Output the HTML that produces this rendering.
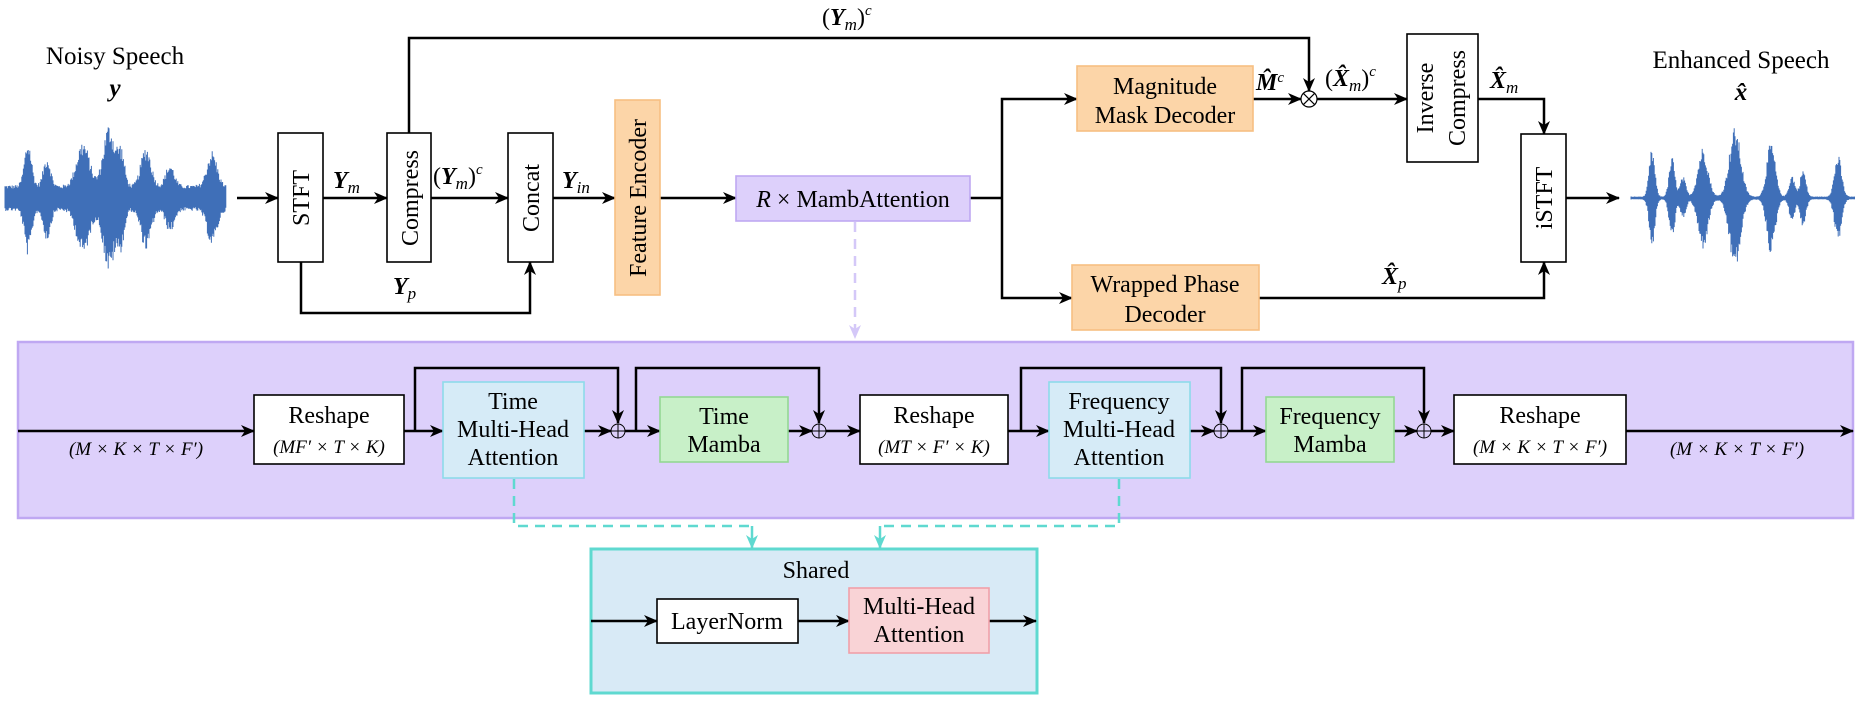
<!DOCTYPE html>
<html><head><meta charset="utf-8"><style>
html,body{margin:0;padding:0;background:#fff}
svg{display:block}
text{font-family:"Liberation Serif",serif;fill:#000}
.b{font-size:24px}
.h{font-size:25px}
.m{font-style:italic}
.s{font-size:19px}
</style></head><body>
<svg id="sv" width="1855" height="717" viewBox="0 0 1855 717" xmlns="http://www.w3.org/2000/svg">
<defs>
<marker id="a" markerUnits="userSpaceOnUse" markerWidth="16" markerHeight="14" refX="13" refY="7" orient="auto"><path d="M0,1 L14,7 L0,13 L4,7 z" fill="#000"/></marker>
<marker id="t" markerUnits="userSpaceOnUse" markerWidth="16" markerHeight="14" refX="13" refY="7" orient="auto"><path d="M0,1 L14,7 L0,13 L4,7 z" fill="#5fd9d0"/></marker>
<marker id="l" markerUnits="userSpaceOnUse" markerWidth="16" markerHeight="14" refX="13" refY="7" orient="auto"><path d="M0,1 L14,7 L0,13 L4,7 z" fill="#d4c8f8"/></marker>
</defs>
<g id="w1"></g><g id="w2"></g>

<text x="115" y="64" text-anchor="middle" class="h">Noisy Speech</text>
<text x="115" y="96" text-anchor="middle" class="h m" font-weight="bold">y</text>
<text x="1741" y="68" text-anchor="middle" class="h">Enhanced Speech</text>
<text x="1741" y="100" text-anchor="middle" class="h m" font-weight="bold">x̂</text>

<g stroke="#000" stroke-width="2.5" fill="none">
<line x1="237" y1="198" x2="278" y2="198" marker-end="url(#a)"/>
<line x1="323" y1="198" x2="387" y2="198" marker-end="url(#a)"/>
<line x1="431" y1="198" x2="508" y2="198" marker-end="url(#a)"/>
<line x1="553" y1="198" x2="615" y2="198" marker-end="url(#a)"/>
<line x1="660" y1="198" x2="736" y2="198" marker-end="url(#a)"/>
<polyline points="301,262 301,313 530,313 530,262" marker-end="url(#a)"/>
<polyline points="409,133 409,38 1309,38 1309,91" marker-end="url(#a)"/>
<line x1="970" y1="198" x2="1002" y2="198"/>
<polyline points="1002,198 1002,99 1077,99" marker-end="url(#a)"/>
<polyline points="1002,198 1002,298 1072,298" marker-end="url(#a)"/>
<line x1="1253" y1="99" x2="1301" y2="99" marker-end="url(#a)"/>
<line x1="1317" y1="99" x2="1407" y2="99" marker-end="url(#a)"/>
<polyline points="1478,99 1544,99 1544,134" marker-end="url(#a)"/>
<polyline points="1259,298 1544,298 1544,262" marker-end="url(#a)"/>
<line x1="1566" y1="198" x2="1619" y2="198" marker-end="url(#a)"/>
</g>
<circle cx="1309" cy="99" r="8" fill="#fff" stroke="#000" stroke-width="1.2"/>
<path d="M1303.3,93.3 L1314.7,104.7 M1314.7,93.3 L1303.3,104.7" stroke="#000" stroke-width="1.2"/>

<g stroke="#000" stroke-width="1.6" fill="#fff">
<rect x="278" y="133" width="45" height="129"/>
<rect x="387" y="133" width="44" height="129"/>
<rect x="508" y="133" width="45" height="129"/>
<rect x="1407" y="34" width="71" height="128"/>
<rect x="1521" y="134" width="45" height="128"/>
</g>
<rect x="615" y="100" width="45" height="195" fill="#fcd5a8" stroke="#f7bf82" stroke-width="1.6"/>
<rect x="1077" y="66" width="176" height="65" fill="#fcd5a8" stroke="#f7bf82" stroke-width="1.6"/>
<rect x="1072" y="265" width="187" height="65" fill="#fcd5a8" stroke="#f7bf82" stroke-width="1.6"/>
<rect x="736" y="176" width="234" height="45" fill="#ddd0fb" stroke="#bfa8f2" stroke-width="1.6"/>

<text transform="translate(309,198) rotate(-90)" text-anchor="middle" class="b">STFT</text>
<text transform="translate(418,198) rotate(-90)" text-anchor="middle" class="b">Compress</text>
<text transform="translate(539,198) rotate(-90)" text-anchor="middle" class="b">Concat</text>
<text transform="translate(646,198) rotate(-90)" text-anchor="middle" class="b">Feature Encoder</text>
<text transform="translate(1433,98) rotate(-90)" text-anchor="middle" class="b">Inverse</text>
<text transform="translate(1465,98) rotate(-90)" text-anchor="middle" class="b">Compress</text>
<text transform="translate(1552,198) rotate(-90)" text-anchor="middle" class="b">iSTFT</text>
<text x="1165" y="94" text-anchor="middle" class="b">Magnitude</text>
<text x="1165" y="123" text-anchor="middle" class="b">Mask Decoder</text>
<text x="1165" y="292" text-anchor="middle" class="b">Wrapped Phase</text>
<text x="1165" y="322" text-anchor="middle" class="b">Decoder</text>
<text x="853" y="207" text-anchor="middle" class="b"><tspan class="m">R</tspan> × MambAttention</text>

<text x="333" y="188" class="b m" font-weight="bold">Y<tspan font-size="17" dy="5" font-weight="normal">m</tspan></text>
<text x="433" y="184" class="b">(<tspan class="m" font-weight="bold">Y</tspan><tspan class="m" font-size="17" dy="5">m</tspan><tspan dy="-5">)</tspan><tspan class="m" font-size="15" dy="-10">c</tspan></text>
<text x="562" y="188" class="b m" font-weight="bold">Y<tspan font-size="17" dy="5" font-weight="normal">in</tspan></text>
<text x="393" y="294" class="b m" font-weight="bold">Y<tspan font-size="17" dy="5" font-weight="normal">p</tspan></text>
<text x="822" y="25" class="b">(<tspan class="m" font-weight="bold">Y</tspan><tspan class="m" font-size="17" dy="5">m</tspan><tspan dy="-5">)</tspan><tspan class="m" font-size="15" dy="-10">c</tspan></text>
<text x="1256" y="90" class="b m" font-weight="bold">M̂<tspan font-size="15" dy="-8" font-weight="normal">c</tspan></text>
<text x="1325" y="86" class="b">(<tspan class="m" font-weight="bold">X̂</tspan><tspan class="m" font-size="17" dy="5">m</tspan><tspan dy="-5">)</tspan><tspan class="m" font-size="15" dy="-10">c</tspan></text>
<text x="1490" y="88" class="b m" font-weight="bold">X̂<tspan font-size="17" dy="5" font-weight="normal">m</tspan></text>
<text x="1382" y="284" class="b m" font-weight="bold">X̂<tspan font-size="17" dy="5" font-weight="normal">p</tspan></text>

<line x1="855" y1="222" x2="855" y2="338" stroke="#d4c8f8" stroke-width="2.5" stroke-dasharray="10,7" marker-end="url(#l)"/>
<rect x="18" y="342" width="1835" height="176" fill="#ddd0fb" stroke="#bfa8f2" stroke-width="2.5"/>

<g stroke="#000" stroke-width="2.5" fill="none">
<line x1="18" y1="431" x2="254" y2="431" marker-end="url(#a)"/>
<line x1="404" y1="431" x2="443" y2="431" marker-end="url(#a)"/>
<polyline points="415,431 415,368 618,368 618,423" marker-end="url(#a)"/>
<line x1="584" y1="431" x2="611" y2="431" marker-end="url(#a)"/>
<line x1="625" y1="431" x2="660" y2="431" marker-end="url(#a)"/>
<polyline points="636,431 636,368 819,368 819,423" marker-end="url(#a)"/>
<line x1="788" y1="431" x2="812" y2="431" marker-end="url(#a)"/>
<line x1="826" y1="431" x2="860" y2="431" marker-end="url(#a)"/>
<line x1="1008" y1="431" x2="1049" y2="431" marker-end="url(#a)"/>
<polyline points="1021,431 1021,368 1221,368 1221,423" marker-end="url(#a)"/>
<line x1="1190" y1="431" x2="1214" y2="431" marker-end="url(#a)"/>
<line x1="1228" y1="431" x2="1266" y2="431" marker-end="url(#a)"/>
<polyline points="1242,431 1242,368 1424,368 1424,423" marker-end="url(#a)"/>
<line x1="1394" y1="431" x2="1417" y2="431" marker-end="url(#a)"/>
<line x1="1431" y1="431" x2="1454" y2="431" marker-end="url(#a)"/>
<line x1="1626" y1="431" x2="1853" y2="431" marker-end="url(#a)"/>
</g>
<g fill="#ddd0fb" stroke="#000" stroke-width="1">
<circle cx="618" cy="431" r="7"/><circle cx="819" cy="431" r="7"/><circle cx="1221" cy="431" r="7"/><circle cx="1424" cy="431" r="7"/>
</g>
<path d="M611,431H625M618,424V438M812,431H826M819,424V438M1214,431H1228M1221,424V438M1417,431H1431M1424,424V438" stroke="#000" stroke-width="1"/>

<g stroke="#000" stroke-width="1.6" fill="#fff">
<rect x="254" y="395" width="150" height="69"/>
<rect x="860" y="395" width="148" height="69"/>
<rect x="1454" y="395" width="172" height="69"/>
</g>
<g fill="#d6ebf7" stroke="#8ddbea" stroke-width="1.6">
<rect x="443" y="382" width="141" height="96"/>
<rect x="1049" y="382" width="141" height="96"/>
</g>
<g fill="#c8f0c8" stroke="#93d893" stroke-width="1.6">
<rect x="660" y="397" width="128" height="65"/>
<rect x="1266" y="397" width="128" height="65"/>
</g>
<text x="329" y="423" text-anchor="middle" class="b">Reshape</text>
<text x="329" y="453" text-anchor="middle" class="s m">(MF′ × T × K)</text>
<text x="934" y="423" text-anchor="middle" class="b">Reshape</text>
<text x="934" y="453" text-anchor="middle" class="s m">(MT × F′ × K)</text>
<text x="1540" y="423" text-anchor="middle" class="b">Reshape</text>
<text x="1540" y="453" text-anchor="middle" class="s m">(M × K × T × F′)</text>
<text x="136" y="455" text-anchor="middle" class="s m">(M × K × T × F′)</text>
<text x="1737" y="455" text-anchor="middle" class="s m">(M × K × T × F′)</text>
<text x="513" y="409" text-anchor="middle" class="b">Time</text>
<text x="513" y="437" text-anchor="middle" class="b">Multi-Head</text>
<text x="513" y="465" text-anchor="middle" class="b">Attention</text>
<text x="1119" y="409" text-anchor="middle" class="b">Frequency</text>
<text x="1119" y="437" text-anchor="middle" class="b">Multi-Head</text>
<text x="1119" y="465" text-anchor="middle" class="b">Attention</text>
<text x="724" y="424" text-anchor="middle" class="b">Time</text>
<text x="724" y="452" text-anchor="middle" class="b">Mamba</text>
<text x="1330" y="424" text-anchor="middle" class="b">Frequency</text>
<text x="1330" y="452" text-anchor="middle" class="b">Mamba</text>

<g stroke="#5fd9d0" stroke-width="2.5" fill="none" stroke-dasharray="10,7">
<polyline points="514,479 514,526 752,526"/>
<polyline points="1119,479 1119,526 880,526"/>
</g>
<g stroke="#5fd9d0" stroke-width="2.5">
<line x1="752" y1="526" x2="752" y2="548" marker-end="url(#t)"/>
<line x1="880" y1="526" x2="880" y2="548" marker-end="url(#t)"/>
</g>

<rect x="591" y="549" width="446" height="144" fill="#d8eaf6" stroke="#5fd9d0" stroke-width="3"/>
<text x="816" y="578" text-anchor="middle" class="b">Shared</text>
<g stroke="#000" stroke-width="2.5">
<line x1="591" y1="621" x2="657" y2="621" marker-end="url(#a)"/>
<line x1="798" y1="621" x2="849" y2="621" marker-end="url(#a)"/>
<line x1="989" y1="621" x2="1036" y2="621" marker-end="url(#a)"/>
</g>
<rect x="657" y="599" width="141" height="44" fill="#fff" stroke="#000" stroke-width="1.6"/>
<rect x="849" y="588" width="140" height="65" fill="#f9d3d6" stroke="#f0a0a8" stroke-width="1.6"/>
<text x="727" y="629" text-anchor="middle" class="b">LayerNorm</text>
<text x="919" y="614" text-anchor="middle" class="b">Multi-Head</text>
<text x="919" y="642" text-anchor="middle" class="b">Attention</text>
</svg>
<script>
(function(){
var s=12345;function r(){s=(s*1103515245+12345)%2147483648;return s/2147483648;}
function wave(id,x0,x1,base,bursts){
 var d="";
 for(var x=x0;x<=x1;x+=0.8){
  var env=base;
  for(var i=0;i<bursts.length;i++){var b=bursts[i];var t=(x-b[0])/b[2];env+=b[1]*Math.exp(-t*t);}
  var a=env*(0.7+0.3*r());var c=env*(0.7+0.3*r());
  d+="M"+x.toFixed(1)+","+(198-a).toFixed(1)+"V"+(198+c).toFixed(1);
 }
 var p=document.createElementNS("http://www.w3.org/2000/svg","path");
 p.setAttribute("d",d);p.setAttribute("stroke","#3f6fb8");p.setAttribute("stroke-width","1");
 document.getElementById(id).appendChild(p);
}
wave("w1",5,226,13,[[28,45,5],[47,30,5],[83,45,9],[109,62,8],[121,35,5],[146,40,7],[170,22,6],[212,35,7]]);
wave("w2",1631,1855,1.5,[[1652,48,4],[1672,40,4],[1683,20,4],[1703,50,7],[1735,70,8],[1771,55,6],[1792,22,4],[1803,28,4],[1838,42,5]]);
})();
</script>
</body></html>
